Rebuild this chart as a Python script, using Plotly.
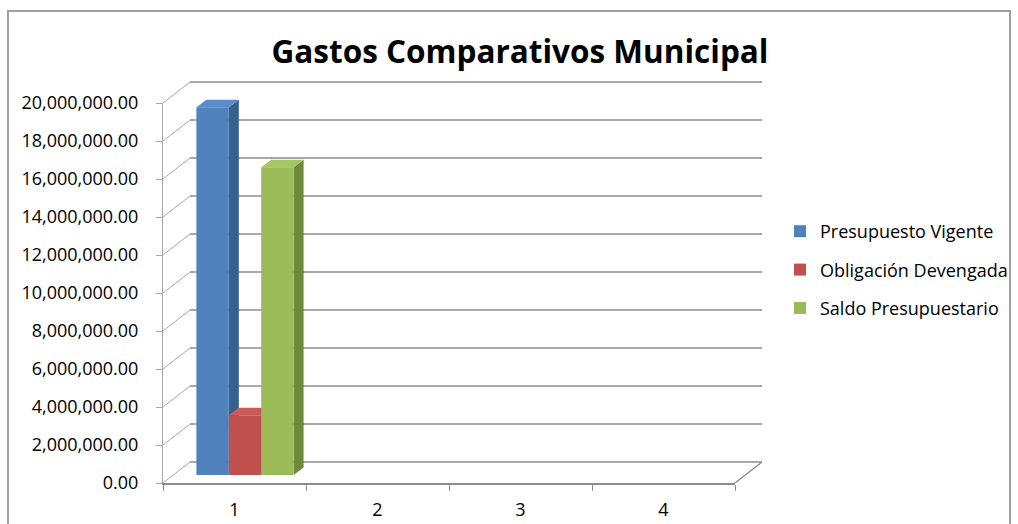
import plotly.graph_objects as go

# ---------------- data ----------------
CATEGORIES = ["1", "2", "3", "4"]
SERIES_NAMES = ["Presupuesto Vigente", "Obligación Devengada", "Saldo Presupuestario"]
PRESUPUESTO_VIGENTE = [19350000, None, None, None]
OBLIGACION_DEVENGADA = [3150000, None, None, None]
SALDO_PRESUPUESTARIO = [16200000, None, None, None]
Y_TICKS = [0, 2000000, 4000000, 6000000, 8000000, 10000000,
           12000000, 14000000, 16000000, 18000000, 20000000]
TITLE = "Gastos Comparativos Municipal"

# ---------------- styling / geometry ----------------
FRONT = ["#4F81BD", "#C0504D", "#9BBB59"]
TOP = ["#5B8CC8", "#CB5B58", "#A6C563"]
SIDE = ["#36608F", "#8F3A37", "#6F8A3B"]
GRID = "#8C8C8C"
FONT = "Open Sans"

W_FIG, H_FIG = 1018, 524
PL, PR, PT, PB = 163, 735, 103, 483     # plot area in pixels
PW, PH = PR - PL, PB - PT
Y_MAX = Y_TICKS[-1]
NCAT = len(CATEGORIES)

WALL_DX, WALL_DY = 27, 21          # depth offset of the back wall (px)
BAR_DX, BAR_DY = 10.5, 8           # offset of bar front face (px)
BAR_DEPTH_X, BAR_DEPTH_Y = 10, 7.5 # bar depth (px)
UNIT_PX = PW / NCAT
BAR_W = 32.4 / UNIT_PX
GROUP_LEFT = -0.5 + (UNIT_PX - 3 * 32.4) / 2 / UNIT_PX + BAR_DX / UNIT_PX
BASE = BAR_DY / PH * Y_MAX


def xp(cat_pos, dpx=0.0):
    """category-axis position (index units) -> paper x"""
    return (cat_pos + 0.5) / NCAT + dpx / PW


def yp(v, dpx=0.0):
    """data value -> paper y (dpx up)"""
    return v / Y_MAX + dpx / PH


fig = go.Figure()
series = [PRESUPUESTO_VIGENTE, OBLIGACION_DEVENGADA, SALDO_PRESUPUESTARIO]
for i, (name, vals) in enumerate(zip(SERIES_NAMES, series)):
    fig.add_trace(go.Bar(
        x=CATEGORIES, y=vals, base=[BASE] * NCAT, name=name,
        width=BAR_W, offset=GROUP_LEFT + i * BAR_W,
        marker=dict(color=FRONT[i], line=dict(width=0)),
        legendgroup=name,
    ))

shapes = []
line_kw = dict(color=GRID, width=1.5)
# back wall gridlines and side wall diagonals
for v in Y_TICKS:
    shapes.append(dict(type="line", xref="paper", yref="paper",
                       x0=xp(-0.5, WALL_DX), x1=xp(NCAT - 0.5, WALL_DX),
                       y0=yp(v, WALL_DY), y1=yp(v, WALL_DY),
                       line=line_kw, layer="below"))
    shapes.append(dict(type="line", xref="paper", yref="paper",
                       x0=xp(-0.5), x1=xp(-0.5, WALL_DX),
                       y0=yp(v), y1=yp(v, WALL_DY),
                       line=dict(color="#A6A6A6", width=1), layer="below"))
# floor right diagonal
shapes.append(dict(type="line", xref="paper", yref="paper",
                   x0=xp(NCAT - 0.5), x1=xp(NCAT - 0.5, WALL_DX),
                   y0=yp(0), y1=yp(0, WALL_DY),
                   line=line_kw, layer="below"))

# 3D faces of bars
for i, vals in enumerate(series):
    for c, v in enumerate(vals):
        if v is None:
            continue
        xl = c + GROUP_LEFT + i * BAR_W
        xr = xl + BAR_W
        top = BASE + v
        p = lambda x, y, dx=0, dy=0: f"{xp(x, dx):.5f},{yp(y, dy):.5f}"
        side = (f"M{p(xr, BASE)} L{p(xr, top)} "
                f"L{p(xr, top, BAR_DEPTH_X, BAR_DEPTH_Y)} "
                f"L{p(xr, BASE, BAR_DEPTH_X, BAR_DEPTH_Y)} Z")
        topf = (f"M{p(xl, top)} L{p(xr, top)} "
                f"L{p(xr, top, BAR_DEPTH_X, BAR_DEPTH_Y)} "
                f"L{p(xl, top, BAR_DEPTH_X, BAR_DEPTH_Y)} Z")
        shapes.append(dict(type="path", xref="paper", yref="paper", path=side,
                           fillcolor=SIDE[i], line=dict(width=0), layer="below"))
        shapes.append(dict(type="path", xref="paper", yref="paper", path=topf,
                           fillcolor=TOP[i], line=dict(width=0), layer="below"))

# chart border
shapes.append(dict(type="rect", xref="paper", yref="paper",
                   x0=(8 - PL) / PW, x1=(1010 - PL) / PW,
                   y0=(PB - 540) / PH, y1=(PB - 11) / PH,
                   line=dict(color="#A0A0A0", width=2), layer="below"))

fig.update_layout(
    width=W_FIG, height=H_FIG,
    margin=dict(l=PL, r=W_FIG - PR, t=PT, b=H_FIG - PB, pad=0,
                autoexpand=False),
    paper_bgcolor="white", plot_bgcolor="rgba(0,0,0,0)",
    barmode="overlay",
    font=dict(family=FONT, size=18, color="#000000"),
    title=dict(text=f"<b>{TITLE}</b>", x=520 / W_FIG, xanchor="center",
               xref="container", y=1 - 52 / H_FIG, yanchor="middle",
               yref="container",
               font=dict(family=FONT, size=31.5, color="#000000")),
    showlegend=True,
    legend=dict(x=(780 - PL) / PW, xanchor="left",
                y=(PB - 270) / PH, yanchor="middle",
                traceorder="grouped", tracegroupgap=12,
                font=dict(family=FONT, size=18, color="#000000"),
                bgcolor="rgba(0,0,0,0)"),
    shapes=shapes,
    xaxis=dict(type="category", range=[-0.5, NCAT - 0.5], showgrid=False,
               showline=True, linecolor=GRID, linewidth=1.5,
               ticks="outside", tickson="boundaries", ticklen=6,
               tickcolor=GRID, ticklabelstandoff=10, zeroline=False,
               automargin=False, fixedrange=True),
    yaxis=dict(range=[0, Y_MAX], tickvals=Y_TICKS, tickformat=",.2f",
               showgrid=False, zeroline=False, showline=True,
               linecolor="#A6A6A6", linewidth=1, ticks="outside", ticklen=6,
               tickcolor="#A6A6A6", ticklabelstandoff=14,
               automargin=False, fixedrange=True),
)

fig.write_html("out.html")
